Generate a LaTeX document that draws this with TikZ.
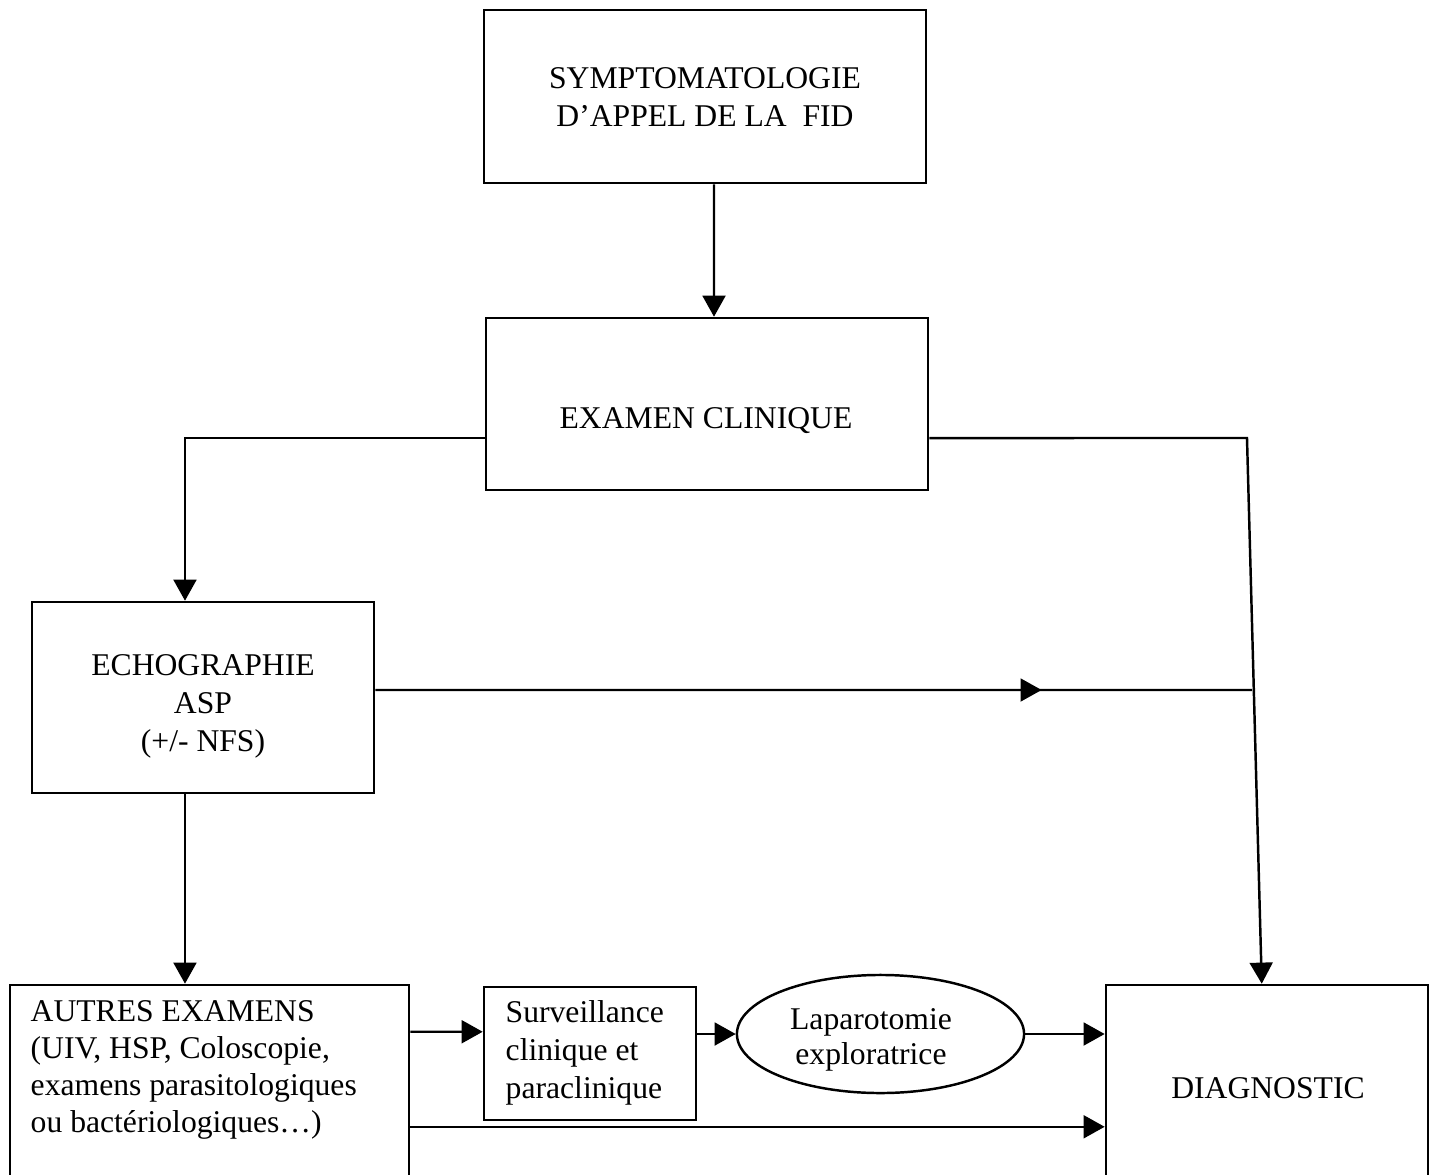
\documentclass[tikz,border=0pt]{standalone}
\usepackage{fontspec}
\setmainfont{Liberation Serif}
\usetikzlibrary{shapes.geometric,arrows.meta,decorations.markings}
\begin{document}
\begin{tikzpicture}[x=0.01cm,y=-0.01cm,
  box/.style={draw, line width=0.7pt, inner sep=0pt},
  txt/.style={inner sep=0pt, font=\fontsize{9}{10.8}\selectfont},
  arr/.style={line width=0.7pt, -{Triangle[length=6pt,width=6.5pt]}},
  ln/.style={line width=0.7pt},
  midarr/.style={line width=0.7pt, postaction={decorate}, decoration={markings, mark=at position 0.76 with {\arrow{Triangle[length=6pt,width=6.5pt]}}}}
]
\useasboundingbox (0,0) rectangle (1429,1175);
\clip (0,0) rectangle (1429,1175);
% boxes
\node[box, minimum width=4.42cm, minimum height=1.73cm] (symp) at (705,96.5) {};
\node[txt, align=center] (sympt) at (705,97) {SYMPTOMATOLOGIE\\D’APPEL DE LA \ FID};
\node[box, minimum width=4.42cm, minimum height=1.72cm] (exam) at (707,404) {};
\node[txt] (examt) at (706,421) {EXAMEN CLINIQUE};
\node[box, minimum width=3.42cm, minimum height=1.91cm] (echo) at (203,697.5) {};
\node[txt, align=center] (echot) at (203,706) {ECHOGRAPHIE\\ASP\\(+/- NFS)};
\node[box, minimum width=3.99cm, minimum height=2.30cm] (autres) at (209.5,1100) {};
\node[txt, align=left, anchor=west, font=\fontsize{9}{10.6}\selectfont] (autrest) at (30,1070) {AUTRES EXAMENS\\(UIV, HSP, Coloscopie,\\examens parasitologiques\\ou bactériologiques\dots)};
\node[box, minimum width=2.12cm, minimum height=1.33cm] (surv) at (590,1053.5) {};
\node[txt, align=left, anchor=west] (survt) at (505,1053) {Surveillance\\clinique et\\paraclinique};
\node[box, ellipse, minimum width=2.87cm, minimum height=1.18cm] (ell) at (880.5,1034) {};
\node[txt, align=center, font=\fontsize{9}{10}\selectfont] (ellt) at (871,1040) {Laparotomie\\exploratrice};
\node[box, minimum width=3.22cm, minimum height=2.30cm] (diag) at (1267,1100) {};
\node[txt] (diagt) at (1268,1088) {DIAGNOSTIC};
% junction points
\coordinate (cr) at (1247,438);
\coordinate (cj) at (1252,690);
% connectors
\draw[arr] ([xshift=0.09cm]symp.south) -- ([xshift=0.07cm]exam.north);
\draw[arr] ([yshift=-0.34cm]exam.west) -| ([xshift=-0.18cm]echo.north);
\draw[arr] ([yshift=-0.34cm]exam.east) -- (cr) -- ([xshift=1.57cm]diag.north west);
\draw[midarr] ([yshift=0.075cm]echo.east) -- (cj);
\draw[arr] ([xshift=-0.18cm]echo.south) -- ([xshift=-0.18cm]echo.south |- autres.north);
\draw[arr] ([yshift=-0.48cm]autres.north east) -- ([yshift=-0.46cm]surv.north west);
\draw[arr] (surv.east |- ell.west) -- (ell.west);
\draw[arr] (ell.east) -- (ell.east -| diag.west);
\draw[arr] ([yshift=-1.43cm]autres.north east) -- ([yshift=-1.43cm]diag.north west);
\end{tikzpicture}
\end{document}
